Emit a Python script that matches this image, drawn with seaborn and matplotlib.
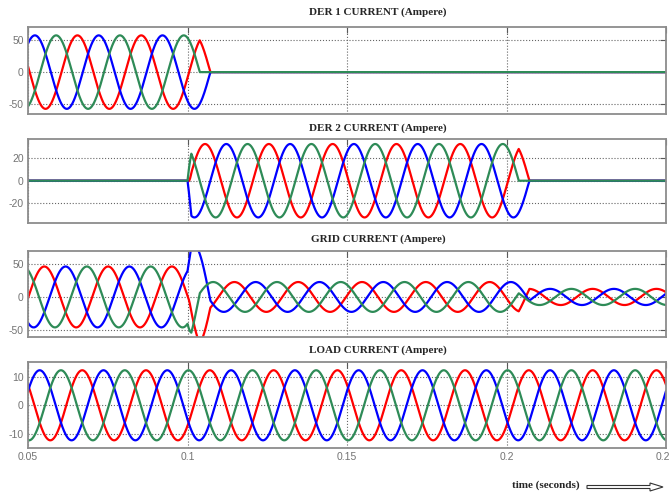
import numpy as np
import matplotlib.pyplot as plt
import seaborn as sns
from matplotlib.patches import FancyArrow

sns.set_style("white")
plt.rcParams['font.family'] = ['Liberation Sans', 'DejaVu Sans']
plt.rcParams['axes.unicode_minus'] = False

# values
freq = 50.0                         # Hz
t_start, t_end = 0.05, 0.25         # seconds
phase_offset = [0.0, -2 / 3, 2 / 3]  # red, blue, green (x pi)
load_amp = 12.3
load_phase = -0.20                  # x pi
der_amp = [57.0, 33.0]
der_phase = [-0.05, -0.05]          # x pi
der_on = [0.0, 0.1]                 # connect time (s)
der_trip = [0.101, 0.201]           # breaker trip (s), phases clear at current zero
der_ramp = 0.0012                   # rise time when DER 2 connects (s)

titles = ['DER 1 CURRENT (Ampere)', 'DER 2 CURRENT (Ampere)',
          'GRID CURRENT (Ampere)', 'LOAD CURRENT (Ampere)']
y_limits = [(-65, 70), (-38, 37.5), (-61, 70), (-15, 15.2)]
y_ticks = [[-50, 0, 50], [-20, 0, 20], [-50, 0, 50], [-10, 0, 10]]
x_ticks = [0.05, 0.1, 0.15, 0.2, 0.25]
x_tick_labels = ['0.05', '0.1', '0.15', '0.2', '0.25']
colors = ['#ff0000', '#0000ff', '#2e8b57']

t = np.linspace(t_start, t_end, 8001)
w = 2 * np.pi * freq


def three_phase(amp, ph):
    return [amp * np.sin(w * t + np.pi * (ph + off)) for off in phase_offset]


def first_zero(i, after):
    flip = np.sign(i) != np.sign(np.roll(i, 1))
    return t[np.where((t > after) & flip)[0][0]]


def der_current(k):
    r, b, g = three_phase(der_amp[k], der_phase[k])
    gain = np.clip((t - der_on[k]) / der_ramp, 0, 1)
    r, b, g = r * gain, b * gain, g * gain
    # green clears first, then blue; red carries -blue in between
    t_g = first_zero(g, der_trip[k])
    t_b = first_zero(b, t_g)
    r = np.where(t < t_g, r, np.where(t < t_b, -b, 0))
    b = np.where(t < t_b, b, 0)
    g = np.where(t < t_g, g, 0)
    return [r, b, g]


der1 = der_current(0)
der2 = der_current(1)
load = three_phase(load_amp, load_phase)
grid = [load[p] - der1[p] - der2[p] for p in range(3)]
signals = [der1, der2, grid, load]

fig = plt.figure(figsize=(6.7, 4.92), dpi=100)
# axes boxes in pixels: top, bottom
boxes = [(27, 114), (139, 223), (251, 337), (362, 448)]
title_y = [12, 128, 239, 350]
left, right = 28, 666

for k in range(4):
    top, bot = boxes[k]
    ax = fig.add_axes([left / 670, 1 - bot / 492, (right - left) / 670, (bot - top) / 492])
    for p in range(3):
        sns.lineplot(x=t, y=signals[k][p], color=colors[p], lw=1.6,
                     estimator=None, ax=ax)
    ax.set_xlim(t_start, t_end)
    ax.set_ylim(*y_limits[k])
    ax.set_yticks(y_ticks[k])
    ax.set_xticks(x_ticks)
    if k == 3:
        ax.set_xticklabels(x_tick_labels)
    else:
        ax.set_xticklabels([])
    ax.grid(True, ls=':', color='0.4', lw=0.8)
    ax.tick_params(direction='in', top=True, right=True, length=4, width=0.8,
                   color='0.35', labelsize=7.5, labelcolor='0.45', pad=3)
    for s in ax.spines.values():
        s.set_color('0.55')
        s.set_linewidth(1.3)
    fig.text(378 / 670, 1 - title_y[k] / 492, titles[k], ha='center', va='center',
             family='Liberation Serif', weight='bold', size=8)

fig.text(546 / 670, 1 - 485 / 492, 'time (seconds)', ha='center', va='center',
         family='Liberation Serif', weight='bold', size=8)
arrow = FancyArrow(5.87, 0.05, 0.76, 0, width=0.03, head_width=0.08, head_length=0.13,
                   length_includes_head=True, facecolor='white', edgecolor='0.2',
                   lw=0.8, transform=fig.dpi_scale_trans)
fig.add_artist(arrow)

fig.savefig('out.png', dpi=100)
